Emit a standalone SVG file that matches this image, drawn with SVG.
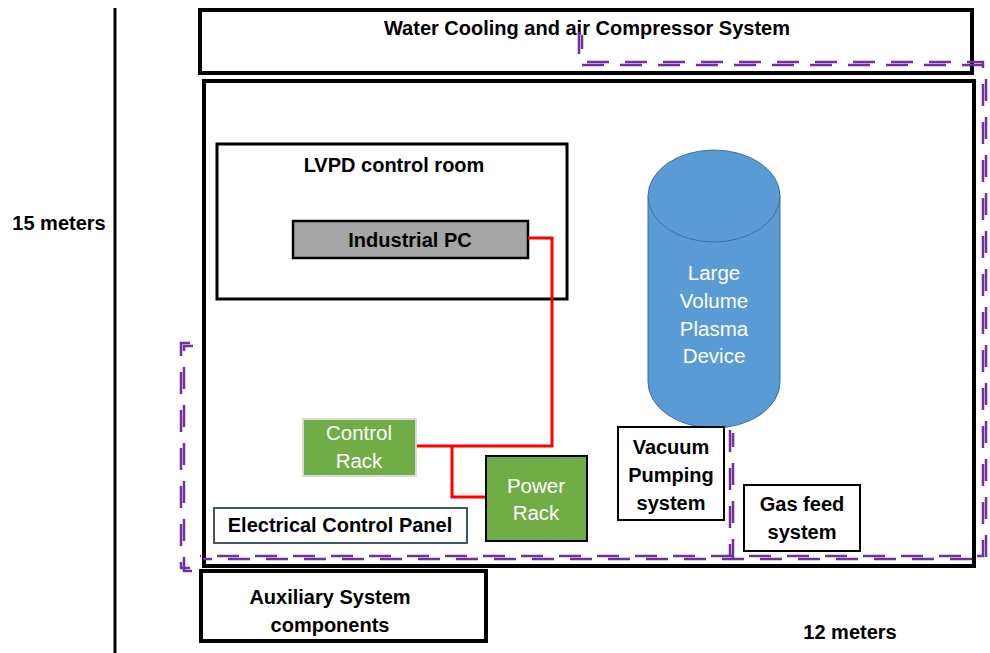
<svg xmlns="http://www.w3.org/2000/svg" width="990" height="653" viewBox="0 0 990 653">
<defs>
<style>
.b{fill:#000;font-family:"Liberation Sans",Arial,sans-serif;font-weight:bold;font-size:20px;text-anchor:middle}
.w{fill:#fff;font-family:"Liberation Sans",Arial,sans-serif;font-size:20.5px;text-anchor:middle}
.box{fill:#fff;stroke:#000}
.dA{fill:none;stroke:#7030a0;stroke-width:2.5;stroke-dasharray:22 16}
.dB{fill:none;stroke:#7030a0;stroke-width:2.5;stroke-dasharray:22 16;stroke-dashoffset:8}
.red{fill:none;stroke:#ff0000;stroke-width:3}
</style>
</defs>
<rect width="990" height="653" fill="#fff"/>
<line x1="115" y1="8" x2="115" y2="653" stroke="#000" stroke-width="3"/>
<text class="b" x="59" y="230">15 meters</text>
<text class="b" x="850" y="639">12 meters</text>

<g id="water">
<rect class="box" x="200" y="10" width="772" height="63" stroke-width="4"/>
<text class="b" x="587" y="35">Water Cooling and air Compressor System</text>
</g>
<g id="hall">
<rect x="204" y="81" width="770" height="485" fill="none" stroke="#000" stroke-width="4"/>
</g>
<g id="lvpd">
<rect class="box" x="217" y="144" width="350" height="155" stroke-width="3"/>
<text class="b" x="394" y="172">LVPD control room</text>
</g>
<g id="pc">
<rect x="293" y="221" width="235" height="37" fill="#a6a6a6" stroke="#000" stroke-width="2.5"/>
<text class="b" x="410" y="247">Industrial PC</text>
</g>
<g id="device">
<path d="M648,196 V382 A66,46 0 0 0 780,382 V196 Z" fill="#5b9bd5" stroke="#41719c" stroke-width="1"/>
<ellipse cx="714" cy="196" rx="66" ry="46" fill="#5b9bd5" stroke="#41719c" stroke-width="1"/>
<text class="w" x="714" y="280">Large</text>
<text class="w" x="714" y="308">Volume</text>
<text class="w" x="714" y="336">Plasma</text>
<text class="w" x="714" y="363">Device</text>
</g>
<g id="connectors">
<path class="red" d="M528,238 H552 V446 H416"/>
<path class="red" d="M452,446 V497 H486"/>
</g>
<g id="control-rack">
<rect x="303" y="419" width="113" height="57" fill="#70ad47" stroke="#d9d9d9" stroke-width="2"/>
<text class="w" x="359" y="440">Control</text>
<text class="w" x="359" y="468">Rack</text>
</g>
<g id="power-rack">
<rect x="486" y="456" width="101" height="85" fill="#70ad47" stroke="#000" stroke-width="2"/>
<text class="w" x="536" y="493">Power</text>
<text class="w" x="536" y="520">Rack</text>
</g>
<g id="ecp">
<rect x="214" y="508" width="253" height="35" fill="#fff" stroke="#44546a" stroke-width="2"/>
<text class="b" x="340" y="532">Electrical Control Panel</text>
</g>
<g id="vacuum">
<rect class="box" x="618" y="427" width="106" height="93" stroke-width="2"/>
<text class="b" x="671" y="454">Vacuum</text>
<text class="b" x="671" y="482">Pumping</text>
<text class="b" x="671" y="510">system</text>
</g>
<g id="gas">
<rect class="box" x="744" y="485" width="116" height="66" stroke-width="2"/>
<text class="b" x="802" y="511">Gas feed</text>
<text class="b" x="802" y="539">system</text>
</g>
<g id="aux">
<rect class="box" x="201" y="571" width="285" height="70" stroke-width="4"/>
<text class="b" x="330" y="604">Auxiliary System</text>
<text class="b" x="330" y="632">components</text>
</g>
<g id="zones">
<path class="dA" d="M579,32 V62 H983 V556 H200"/>
<path class="dB" transform="translate(3,3)" d="M579,32 V62 H983 V556 H200"/>
<path class="dA" d="M730,430 V556"/>
<path class="dB" transform="translate(3,3)" d="M730,430 V556"/>
<path class="dA" d="M190,343 H181 V568 H190"/>
<path class="dB" transform="translate(3,3)" d="M190,343 H181 V568 H190"/>
</g>
</svg>
